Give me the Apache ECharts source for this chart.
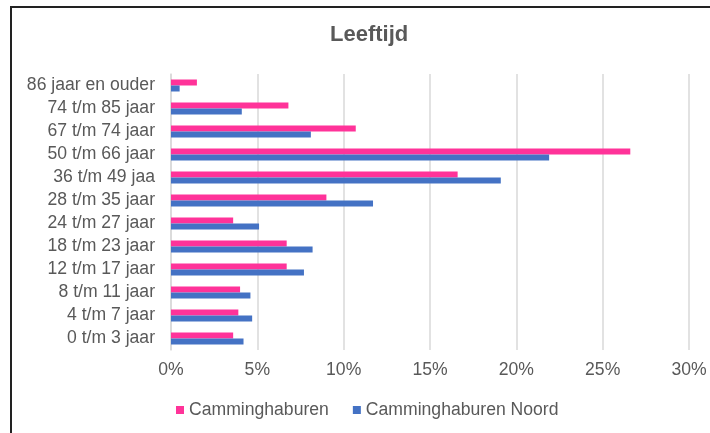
<!DOCTYPE html>
<html>
<head>
<meta charset="utf-8">
<script src="https://cdn.jsdelivr.net/npm/echarts@6/dist/echarts.min.js"></script>
<style>
  html, body { margin: 0; padding: 0; background: #fff; }
  #chart { width: 710px; height: 433px; }
</style>
</head>
<body>
<div id="chart"></div>
<script>
  // categories listed top to bottom
  const categories = [
    '86 jaar en ouder', '74 t/m 85 jaar', '67 t/m 74 jaar', '50 t/m 66 jaar',
    '36 t/m 49 jaa', '28 t/m 35 jaar', '24 t/m 27 jaar', '18 t/m 23 jaar',
    '12 t/m 17 jaar', '8 t/m 11 jaar', '4 t/m 7 jaar', '0 t/m 3 jaar'
  ];
  const camminghaburen = [1.5, 6.8, 10.7, 26.6, 16.6, 9.0, 3.6, 6.7, 6.7, 4.0, 3.9, 3.6];
  const camminghaburenNoord = [0.5, 4.1, 8.1, 21.9, 19.1, 11.7, 5.1, 8.2, 7.7, 4.6, 4.7, 4.2];
  const seriesNames = ['Camminghaburen', 'Camminghaburen Noord'];

  const textColor = '#595959';
  const fontFamily = "'Liberation Sans', Arial, sans-serif";

  const chart = echarts.init(document.getElementById('chart'));
  chart.setOption({
    backgroundColor: '#fff',
    animation: false,
    title: {
      text: 'Leeftijd',
      left: 330,
      top: 24,
      padding: 0,
      textStyle: { color: textColor, fontSize: 22, fontWeight: 'bold', fontFamily }
    },
    graphic: [{
      type: 'rect',
      shape: { x: 11, y: 7, width: 760, height: 480 },
      style: { fill: 'none', stroke: '#222', lineWidth: 2 },
      silent: true
    }],
    legend: {
      data: seriesNames,
      left: 176,
      top: 401,
      padding: 0,
      itemWidth: 8,
      itemHeight: 8,
      itemGap: 24,
      icon: 'rect',
      textStyle: { color: textColor, fontSize: 17.6, fontFamily }
    },
    grid: { left: 171, right: 21, top: 74, bottom: 83 },
    xAxis: {
      type: 'value',
      min: 0,
      max: 30,
      interval: 5,
      axisLine: { show: false },
      axisTick: { show: false },
      axisLabel: { formatter: '{value}%', color: textColor, fontSize: 17.6, fontFamily, margin: 11 },
      splitLine: { lineStyle: { color: '#d9d9d9', width: 1.5 } }
    },
    yAxis: {
      type: 'category',
      inverse: true,
      data: categories,
      axisLine: { lineStyle: { color: '#d9d9d9', width: 1.5 } },
      axisTick: { show: false },
      axisLabel: { interval: 0, color: textColor, fontSize: 17.6, fontFamily, margin: 16 }
    },
    series: [
      {
        name: seriesNames[0],
        type: 'bar',
        data: camminghaburen,
        barWidth: 6,
        barGap: '0%',
        itemStyle: { color: '#FF3399' }
      },
      {
        name: seriesNames[1],
        type: 'bar',
        data: camminghaburenNoord,
        barWidth: 6,
        barGap: '0%',
        itemStyle: { color: '#4472C4' }
      }
    ]
  });
</script>
</body>
</html>
